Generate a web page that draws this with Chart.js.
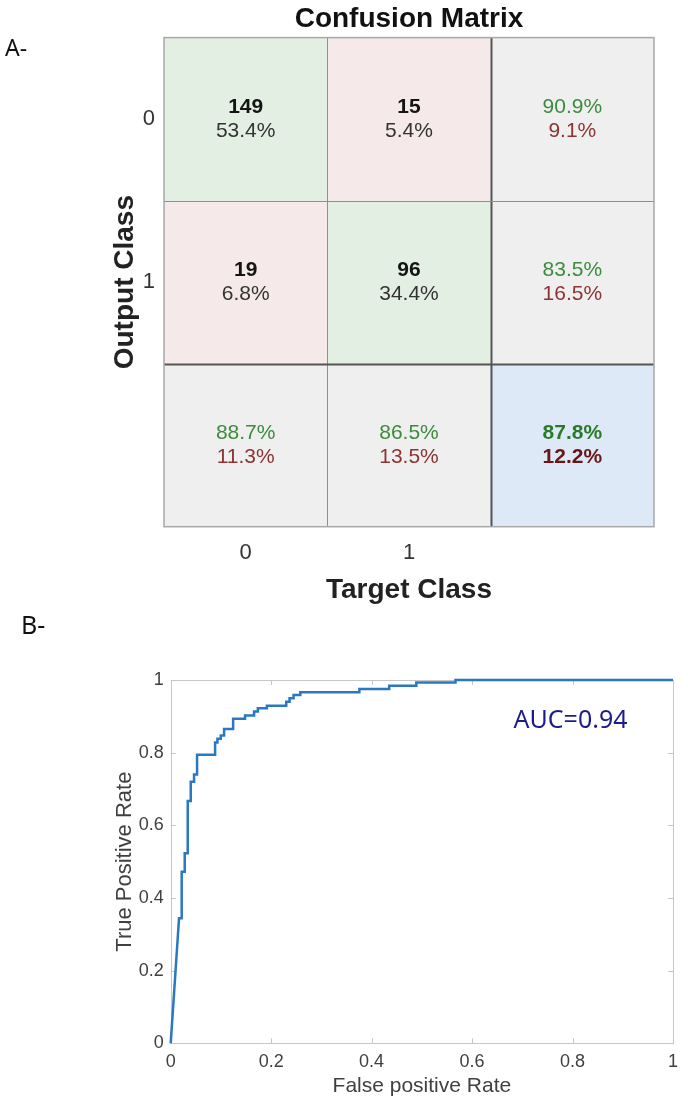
<!DOCTYPE html>
<html>
<head>
<meta charset="utf-8">
<script src="https://cdn.jsdelivr.net/npm/chart.js@4.4.1/dist/chart.umd.min.js"></script>
<style>
  body { margin: 0; background: #fff; width: 688px; height: 1099px; position: relative; overflow: hidden; }
  .panel { position: absolute; left: 0; }
  .tag { position: absolute; font-family: 'Noto Sans', sans-serif; color: #111; line-height: 1; }
</style>
</head>
<body>
<canvas id="cm" class="panel" width="688" height="610" style="top:0"></canvas>
<canvas id="roc" class="panel" width="688" height="489" style="top:610px"></canvas>
<div class="tag" style="left:5px;top:36px;font-size:23px">A-</div>
<div class="tag" style="left:21px;top:612px;font-size:25px">B-</div>
<script>
// confusion matrix
const targetClasses = ['0', '1'];
const outputClasses = ['0', '1'];
const counts = [[149, 15], [19, 96]];
const countPct = [[53.4, 5.4], [6.8, 34.4]];
const rowRight = [90.9, 83.5];
const rowWrong = [9.1, 16.5];
const colRight = [88.7, 86.5];
const colWrong = [11.3, 13.5];
const totalRight = 87.8;
const totalWrong = 12.2;

// ROC curve, corners of the staircase
const fpr = [0, 0.0166, 0.0219, 0.0219, 0.0279, 0.0279, 0.0339, 0.0339, 0.0399, 0.0399,
  0.0465, 0.0465, 0.0525, 0.0525, 0.0884, 0.0884, 0.093, 0.093, 0.0997, 0.0997,
  0.1063, 0.1063, 0.1243, 0.1243, 0.148, 0.148, 0.166, 0.166, 0.1735, 0.1735,
  0.1915, 0.1915, 0.230, 0.230, 0.2366, 0.2366, 0.2446, 0.2446, 0.258, 0.258,
  0.3756, 0.3756, 0.435, 0.435, 0.489, 0.489, 0.567, 0.567, 1];
const tpr = [0, 0.344, 0.344, 0.472, 0.472, 0.523, 0.523, 0.667, 0.667, 0.720,
  0.720, 0.740, 0.740, 0.794, 0.794, 0.828, 0.828, 0.838, 0.838, 0.847,
  0.847, 0.865, 0.865, 0.893, 0.893, 0.902, 0.902, 0.913, 0.913, 0.922,
  0.922, 0.929, 0.929, 0.940, 0.940, 0.950, 0.950, 0.959, 0.959, 0.966,
  0.966, 0.975, 0.975, 0.984, 0.984, 0.993, 0.993, 1, 1];
const rocTicks = [0, 0.2, 0.4, 0.6, 0.8, 1];
const rocTickLabels = ['0', '0.2', '0.4', '0.6', '0.8', '1'];
const aucText = 'AUC=0.94';

const SANS = '"Liberation Sans", Arial, Helvetica, sans-serif';
const GREEN_BG = '#e3efe3', RED_BG = '#f5e9e9', GREY_BG = '#efefef', BLUE_BG = '#dee9f8';
const GREEN_TXT = '#3d8b3d', RED_TXT = '#8c3434';

const nRows = outputClasses.length + 1;
const nCols = targetClasses.length + 1;
const last = nRows - 1;

function pct(v) { return v.toFixed(1) + '%'; }

function cellLines(r, c) {
    if (r < last && c < last) {
        return [{ text: String(counts[r][c]), bold: true, color: '#141414' },
                { text: pct(countPct[r][c]), color: '#333' }];
    }
    if (r < last) return [{ text: pct(rowRight[r]), color: GREEN_TXT }, { text: pct(rowWrong[r]), color: RED_TXT }];
    if (c < last) return [{ text: pct(colRight[c]), color: GREEN_TXT }, { text: pct(colWrong[c]), color: RED_TXT }];
    return [{ text: pct(totalRight), bold: true, color: '#2a7a2a' }, { text: pct(totalWrong), bold: true, color: '#6a1616' }];
}

const datasets = [];
for (let r = 0; r < nRows; r++) {
    const bg = [];
    for (let c = 0; c < nCols; c++) {
        if (r === last && c === last) bg.push(BLUE_BG);
        else if (r === last || c === last) bg.push(GREY_BG);
        else if (r === c) bg.push(GREEN_BG);
        else bg.push(RED_BG);
    }
    datasets.push({
        data: Array(nCols).fill(1),
        backgroundColor: bg,
        borderWidth: 0,
        categoryPercentage: 1,
        barPercentage: 1
    });
}

// text inside the cells and the grid lines
const cellText = {
    id: 'cellText',
    afterDatasetsDraw(chart) {
        const { ctx, chartArea: a, scales: { y } } = chart;
        const bars = chart.getDatasetMeta(0).data;
        ctx.save();
        // grid
        const colEdge = c => c < nCols ? bars[c].x - bars[c].width / 2 : bars[nCols - 1].x + bars[nCols - 1].width / 2;
        const line = (x1, y1, x2, y2, color, w) => {
            ctx.beginPath();
            ctx.strokeStyle = color;
            ctx.lineWidth = w;
            ctx.moveTo(x1, y1);
            ctx.lineTo(x2, y2);
            ctx.stroke();
        };
        for (let c = 1; c < nCols; c++) {
            const x = Math.round(colEdge(c)) + 0.5;
            if (c === last) line(x, a.top, x, a.bottom, '#555', 2);
            else line(x, a.top, x, a.bottom, '#8f8f8f', 1);
        }
        for (let r = 1; r < nRows; r++) {
            const yy = Math.round(y.getPixelForValue(r)) + 0.5;
            if (r === last) line(a.left, yy, a.right, yy, '#555', 2);
            else line(a.left, yy, a.right, yy, '#8f8f8f', 1);
        }
        ctx.strokeStyle = '#a8a8a8';
        ctx.lineWidth = 1.5;
        ctx.strokeRect(a.left, a.top, a.right - a.left, a.bottom - a.top);

        // text
        ctx.textAlign = 'center';
        ctx.textBaseline = 'middle';
        chart.data.datasets.forEach((ds, r) => {
            chart.getDatasetMeta(r).data.forEach((bar, c) => {
                const cy = (bar.y + bar.base) / 2;
                cellLines(r, c).forEach((ln, i) => {
                    ctx.font = (ln.bold ? 'bold ' : '') + '21px ' + SANS;
                    ctx.fillStyle = ln.color;
                    ctx.fillText(ln.text, bar.x, cy - 11.5 + i * 24);
                });
            });
        });
        ctx.restore();
    }
};

new Chart(document.getElementById('cm'), {
    type: 'bar',
    data: { labels: targetClasses.concat(['']), datasets: datasets },
    options: {
        responsive: false,
        animation: false,
        layout: { padding: { top: 0, right: 34, left: 0, bottom: 0 } },
        plugins: {
            legend: { display: false },
            tooltip: { enabled: false },
            title: {
                display: true,
                fullSize: false,
                text: 'Confusion Matrix',
                color: '#111',
                font: { family: SANS, size: 28, weight: 'bold' },
                padding: { top: 2, bottom: 2 }
            }
        },
        scales: {
            x: {
                stacked: true,
                grid: { display: false, drawTicks: false },
                border: { display: false },
                afterFit: s => { s.height = 83.3; },
                ticks: { font: { family: SANS, size: 22 }, color: '#333', padding: 13 },
                title: {
                    display: true, text: 'Target Class', color: '#222',
                    font: { family: SANS, size: 28, weight: 'bold' },
                    padding: { top: 0, bottom: 3 }
                }
            },
            y: {
                type: 'linear',
                stacked: true,
                reverse: true,
                min: 0,
                max: nRows,
                grid: { display: false, drawTicks: false },
                border: { display: false },
                afterBuildTicks: s => { s.ticks = outputClasses.map((c, i) => ({ value: i + 0.5 })); },
                afterFit: s => { s.width = 164; },
                ticks: {
                    callback: (v, i) => outputClasses[i],
                    font: { family: SANS, size: 22 }, color: '#333', padding: 9
                },
                title: {
                    display: true, text: 'Output Class', color: '#222',
                    font: { family: SANS, size: 28, weight: 'bold' },
                    padding: { top: 108, bottom: 0 }
                }
            }
        }
    },
    plugins: [cellText]
});

// ROC frame with inward ticks, and the AUC note
const rocFrame = {
    id: 'rocFrame',
    beforeDatasetsDraw(chart) {
        const { ctx, chartArea: a, scales: { x, y } } = chart;
        ctx.save();
        ctx.strokeStyle = '#c6c6c6';
        ctx.lineWidth = 1;
        ctx.strokeRect(Math.round(a.left) + 0.5, Math.round(a.top) + 0.5,
            Math.round(a.right - a.left), Math.round(a.bottom - a.top));
        ctx.beginPath();
        x.ticks.forEach(t => {
            const px = Math.round(x.getPixelForValue(t.value)) + 0.5;
            ctx.moveTo(px, a.bottom); ctx.lineTo(px, a.bottom - 5);
            ctx.moveTo(px, a.top); ctx.lineTo(px, a.top + 5);
        });
        y.ticks.forEach(t => {
            const py = Math.round(y.getPixelForValue(t.value)) + 0.5;
            ctx.moveTo(a.left, py); ctx.lineTo(a.left + 5, py);
            ctx.moveTo(a.right, py); ctx.lineTo(a.right - 5, py);
        });
        ctx.stroke();
        ctx.restore();
    },
    afterDatasetsDraw(chart) {
        const { ctx, scales: { x, y } } = chart;
        ctx.save();
        ctx.font = '25px "Noto Sans", sans-serif';
        ctx.fillStyle = '#1c1c8c';
        ctx.textAlign = 'center';
        ctx.textBaseline = 'middle';
        ctx.fillText(aucText, x.getPixelForValue(0.796), y.getPixelForValue(0.887));
        ctx.restore();
    }
};

new Chart(document.getElementById('roc'), {
    type: 'scatter',
    data: {
        datasets: [{
            data: fpr.map((v, i) => ({ x: v, y: tpr[i] })),
            showLine: true,
            borderColor: '#2a78c2',
            borderWidth: 2.5,
            pointRadius: 0,
            fill: false,
            tension: 0,
            clip: false
        }]
    },
    options: {
        responsive: false,
        animation: false,
        layout: { padding: { top: 70, right: 15, left: 0, bottom: 0 } },
        plugins: { legend: { display: false }, tooltip: { enabled: false } },
        scales: {
            x: {
                type: 'linear', min: 0, max: 1,
                grid: { display: false, drawTicks: false },
                border: { display: false },
                afterBuildTicks: s => { s.ticks = rocTicks.map(v => ({ value: v })); },
                afterFit: s => { s.height = 55.7; },
                ticks: {
                    callback: (v, i) => rocTickLabels[i], autoSkip: false, maxRotation: 0,
                    font: { family: SANS, size: 18 }, color: '#404040', padding: 8
                },
                title: {
                    display: true, text: 'False positive Rate', color: '#404040',
                    font: { family: SANS, size: 21 }, padding: { top: 0, bottom: 0 }
                }
            },
            y: {
                type: 'linear', min: 0, max: 1,
                grid: { display: false, drawTicks: false },
                border: { display: false },
                afterBuildTicks: s => { s.ticks = rocTicks.map(v => ({ value: v })); },
                afterFit: s => { s.width = 170.7; },
                ticks: {
                    callback: (v, i) => rocTickLabels[i], autoSkip: false,
                    font: { family: SANS, size: 18 }, color: '#404040', padding: 7
                },
                title: {
                    display: true, text: 'True Positive Rate', color: '#404040',
                    font: { family: SANS, size: 22 }, padding: { top: 112, bottom: 0 }
                }
            }
        }
    },
    plugins: [rocFrame]
});
</script>
</body>
</html>
